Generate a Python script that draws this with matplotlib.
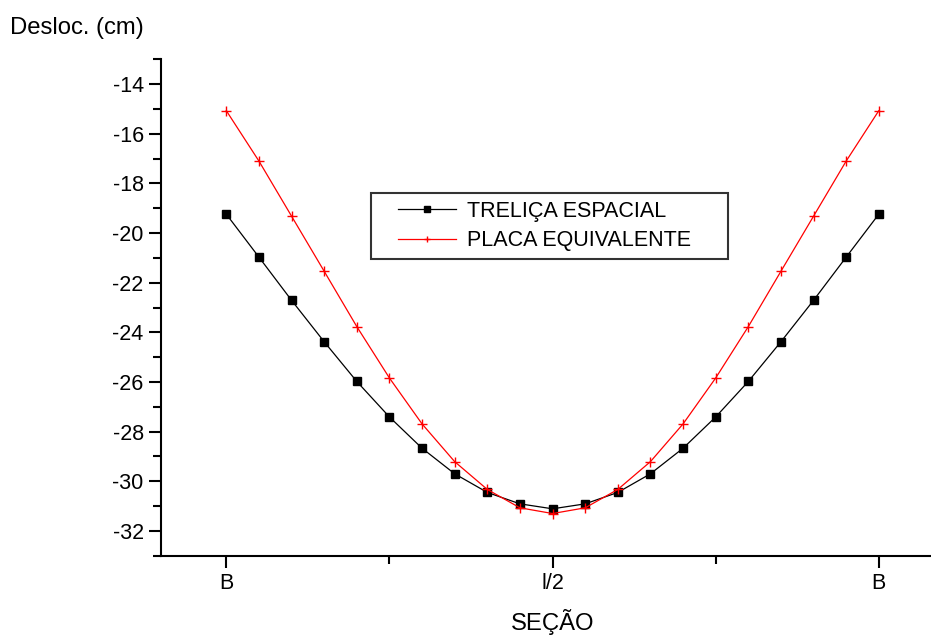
import numpy as np
import matplotlib.pyplot as plt
from matplotlib.lines import Line2D
from matplotlib.legend_handler import HandlerLine2D
from matplotlib.transforms import blended_transform_factory

plt.rcParams['font.family'] = ['Liberation Sans', 'DejaVu Sans']
plt.rcParams['axes.unicode_minus'] = False

# Posição ao longo da seção (0 = B, 1 = l/2, 2 = B)
secao = [0.0, 0.1, 0.2, 0.3, 0.4, 0.5, 0.6, 0.7, 0.8, 0.9, 1.0,
         1.1, 1.2, 1.3, 1.4, 1.5, 1.6, 1.7, 1.8, 1.9, 2.0]

# Deslocamentos (cm)
trelica = [-19.24, -20.97, -22.71, -24.38, -25.98, -27.41, -28.67, -29.70, -30.45, -30.91, -31.11,
           -30.91, -30.45, -29.70, -28.67, -27.41, -25.98, -24.38, -22.71, -20.97, -19.24]
placa = [-15.07, -17.10, -19.32, -21.54, -23.77, -25.84, -27.69, -29.21, -30.33, -31.07, -31.30,
         -31.07, -30.33, -29.21, -27.69, -25.84, -23.77, -21.54, -19.32, -17.10, -15.07]

x_ticks = [0, 1, 2]
x_tick_labels = ['B', 'l/2', 'B']
y_ticks = [-32, -30, -28, -26, -24, -22, -20, -18, -16, -14]

fig = plt.figure(figsize=(9.31, 6.37), dpi=100)
ax = fig.add_axes([0.173, 0.1276, 0.827, 0.7793])

ax.plot(secao, trelica, color='black', lw=0.9, marker='s', ms=5.8,
        mfc='black', mec='black', label='TRELIÇA ESPACIAL')
ax.plot(secao, placa, color='red', lw=0.9, marker='+', ms=7, mew=1.0,
        label='PLACA EQUIVALENTE')

ax.set_xlim(-0.2, 2.16)
ax.set_ylim(-33, -13)
ax.set_xticks(x_ticks)
ax.set_xticklabels(x_tick_labels)
ax.set_xticks([0.5, 1.5], minor=True)
ax.set_yticks(y_ticks)
ax.set_yticks(np.arange(-33, -12, 2), minor=True)

for s in ['top', 'right']:
    ax.spines[s].set_visible(False)
for s in ['left', 'bottom']:
    ax.spines[s].set_linewidth(1.5)

ax.tick_params(which='major', direction='out', length=8.5, width=1.5, labelsize=15.5, pad=4)
ax.tick_params(which='minor', direction='out', length=5.5, width=1.5)

trans = blended_transform_factory(ax.transData, ax.transAxes)
ax.text(1.0, -0.1336, 'SEÇÃO', transform=trans, ha='center', va='center', fontsize=17.2)
fig.text(0.011, 0.956, 'Desloc. (cm)', ha='left', va='center', fontsize=17.2)

leg = ax.legend(loc='upper left', bbox_to_anchor=(0.2727, 0.6307, 0.4636, 0.1),
                mode='expand', fontsize=15.5, frameon=True, fancybox=False,
                edgecolor='black', borderpad=0.35, labelspacing=0.4,
                handlelength=3.6, handletextpad=0.5, numpoints=1, borderaxespad=0,
                handler_map={Line2D: HandlerLine2D(xpad=0.9)})
leg.get_frame().set_linewidth(1.5)
for h in leg.legend_handles:
    h.set_markersize(5)

fig.savefig('out.png', dpi=100)
